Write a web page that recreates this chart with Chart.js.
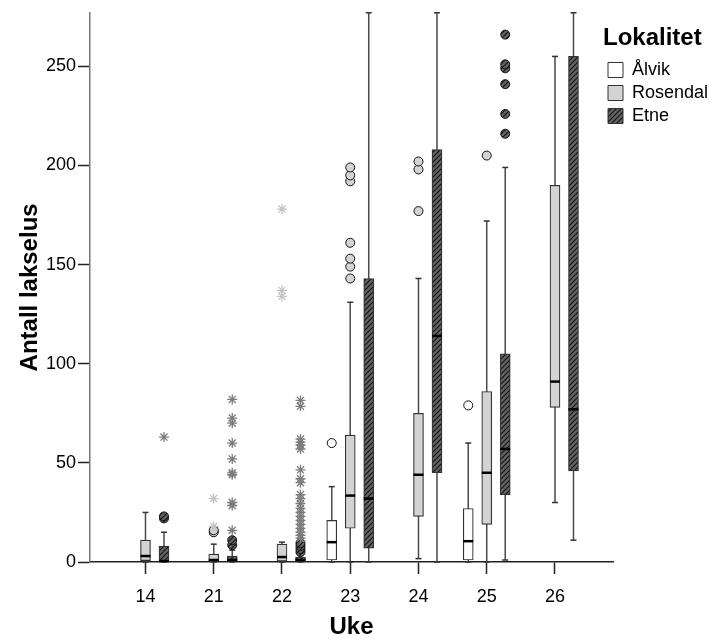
<!DOCTYPE html>
<html>
  <head>
    <meta charset="utf-8">
    <script src="https://cdn.jsdelivr.net/npm/chart.js@4"></script>
    <style>
      html, body { margin: 0; padding: 0; background: #fff; }
    </style>
  </head>

  <body>
    <canvas id="canvas" width="714" height="639"></canvas>
    <script>
      const weeks = ['14', '21', '22', '23', '24', '25', '26'];
      const seriesNames = ['Ålvik', 'Rosendal', 'Etne'];

      // [min, q1, median, q3, max] per week, null = no box
      const alvikStats = [null, null, null, [0, 1, 10, 21, 38], null, [0, 1, 10.5, 27, 60], null];
      const rosendalStats = [
        [0, 0.7, 3, 11, 25], [0, 0, 1, 4, 9], [0, 0.5, 2.5, 9, 10], [0, 17, 33.5, 64, 131],
        [1.7, 23, 44, 75, 143], [0, 19, 45, 86, 172], [30, 78, 91, 190, 255],
      ];
      const etneStats = [
        [0, 0, 0.5, 8, 15], [0, 0, 1, 3, 6], [0, 0, 1, 2.5, 4], [0, 7, 32, 143, 277],
        [0, 45, 114, 208, 277], [1, 34, 57, 105, 199], [11, 46, 77, 255, 277],
      ];

      // outliers (circles) per week
      const alvikOutliers = [[], [], [], [60], [], [79], []];
      const rosendalOutliers = [[], [15, 16], [], [143, 149, 153, 161, 192, 195, 199], [177, 198, 202], [205], []];
      const etneOutliers = [[22, 23], [8.5, 11], [5, 6.5, 8, 9.5], [], [], [216, 226, 241, 249, 251, 266], []];

      // extremes (stars) per week
      const alvikExtremes = [[], [], [], [], [], [], []];
      const rosendalExtremes = [[], [18, 32], [134, 137, 178], [], [], [], []];
      const etneExtremes = [
        [63],
        [16, 28.5, 30, 44, 45, 52, 60, 70, 72.6, 82],
        [12, 13.5, 15, 17, 19, 21, 23, 25, 27, 29.5, 32, 34, 40, 42, 46.5, 57, 59, 60.5, 62, 78.5, 81.5],
        [], [], [], [],
      ];

      const yTicks = [0, 50, 100, 150, 200, 250];

      function makeHatch() {
        const c = document.createElement('canvas');
        c.width = 5;
        c.height = 5;
        const g = c.getContext('2d');
        g.fillStyle = '#636363';
        g.fillRect(0, 0, 5, 5);
        g.strokeStyle = '#111';
        g.lineWidth = 1.1;
        g.beginPath();
        g.moveTo(0, 5); g.lineTo(5, 0);
        g.moveTo(-1, 1); g.lineTo(1, -1);
        g.moveTo(4, 6); g.lineTo(6, 4);
        g.stroke();
        return g.createPattern(c, 'repeat');
      }
      const hatch = makeHatch();

      const stats = [alvikStats, rosendalStats, etneStats];
      const outliers = [alvikOutliers, rosendalOutliers, etneOutliers];
      const extremes = [alvikExtremes, rosendalExtremes, etneExtremes];
      const fills = ['#ffffff', '#d3d3d3', hatch];
      const starColors = ['#aaaaaa', '#c4c4c4', '#7c7c7c'];
      const offsets = [-0.271, 0, 0.271];

      const datasets = [];
      stats.forEach((st, s) => {
        const off = offsets[s];
        const boxes = [], whisk = [], meds = [], caps = [], outs = [], stars = [];
        st.forEach((b, i) => {
          const x = i + off;
          if (b) {
            boxes.push({ x, y: [b[1], b[3]] });
            whisk.push({ x, y: b[0] }, { x, y: b[4] }, { x, y: null });
            meds.push({ x, y: b[2] });
            caps.push({ x, y: b[0] }, { x, y: b[4] });
          }
          outliers[s][i].forEach((v) => outs.push({ x, y: v }));
          extremes[s][i].forEach((v) => stars.push({ x, y: v }));
        });
        datasets.push({
          type: 'line', data: whisk, borderColor: '#4a4a4a', borderWidth: 1.5,
          pointRadius: 0, spanGaps: false, order: 6, clip: false,
        });
        datasets.push({
          type: 'bar', data: boxes, backgroundColor: fills[s], borderColor: '#333',
          borderWidth: 1.2, borderSkipped: false, barThickness: 10, grouped: false, order: 5,
        });
        datasets.push({
          type: 'scatter', data: meds, pointStyle: 'line', pointRadius: 5, borderColor: '#000',
          pointBorderWidth: 2.5, order: 3, clip: false,
        });
        datasets.push({
          type: 'scatter', data: caps, pointStyle: 'line', pointRadius: 3, borderColor: '#333',
          pointBorderWidth: 1.5, order: 3, clip: false,
        });
        datasets.push({
          type: 'scatter', data: outs, pointStyle: 'circle', pointRadius: 4.5,
          backgroundColor: fills[s], borderColor: '#111', pointBorderWidth: 1, order: 2,
        });
        datasets.push({
          type: 'scatter', data: stars, pointStyle: 'star', pointRadius: 5,
          borderColor: starColors[s], pointBorderWidth: 1.3, order: 1,
        });
      });

      // legend sits a little over the plot's right edge, as in the original
      const legendShift = {
        id: 'legendShift',
        afterLayout(chart) {
          const l = chart.legend;
          l.left = 603;
          l.right = 714;
          l.width = l.right - l.left;
        },
      };

      const font = 'Liberation Sans, Arial, sans-serif';

      new Chart(document.getElementById('canvas').getContext('2d'), {
        type: 'bar',
        data: { datasets },
        plugins: [legendShift],
        options: {
          responsive: false,
          animation: false,
          events: [],
          layout: { padding: { top: 12, left: 0, right: 0, bottom: 0 } },
          scales: {
            x: {
              type: 'linear',
              offset: false,
              min: -0.813,
              max: 6.85,
              afterBuildTicks: (axis) => {
                axis.ticks = weeks.map((w, i) => ({ value: i }));
              },
              afterFit: (axis) => {
                axis.height = 77;
              },
              ticks: {
                callback: (v) => weeks[v],
                color: '#000',
                font: { family: font, size: 18 },
                padding: 12,
                maxRotation: 0,
              },
              grid: {
                display: true, offset: false, drawOnChartArea: false, drawTicks: true,
                tickLength: 12, tickColor: '#222', tickWidth: 1.5,
              },
              border: { display: true, color: '#222', width: 1.5 },
              title: {
                display: true, text: 'Uke', color: '#000',
                font: { family: font, size: 24, weight: 'bold' },
                padding: { top: 0, bottom: -3 },
              },
            },
            y: {
              type: 'linear',
              min: 0,
              max: 277,
              afterBuildTicks: (axis) => {
                axis.ticks = yTicks.map((v) => ({ value: v }));
              },
              afterFit: (axis) => {
                axis.width = 90;
              },
              ticks: {
                color: '#000',
                font: { family: font, size: 18 },
                padding: 2,
              },
              grid: {
                display: true, drawOnChartArea: false, drawTicks: true,
                tickLength: 12, tickColor: '#222', tickWidth: 1.5,
              },
              border: { display: true, color: '#777', width: 1.5 },
              title: {
                display: true, text: 'Antall lakselus', color: '#000',
                font: { family: font, size: 24, weight: 'bold' },
                padding: { top: 16, bottom: 0 },
              },
            },
          },
          plugins: {
            tooltip: { enabled: false },
            legend: {
              display: true,
              position: 'right',
              align: 'start',
              maxWidth: 101,
              title: {
                display: true, text: 'Lokalitet', color: '#000', position: 'start',
                font: { family: font, size: 24, weight: 'bold' },
                padding: { top: 14, bottom: 1.2 },
              },
              labels: {
                boxWidth: 15,
                boxHeight: 15,
                padding: 5,
                color: '#000',
                font: { family: font, size: 18 },
                generateLabels: () =>
                  seriesNames.map((name, i) => ({
                    text: name, fillStyle: fills[i], strokeStyle: '#333', lineWidth: 1, hidden: false,
                  })),
              },
            },
          },
        },
      });
    </script>
  </body>
</html>
